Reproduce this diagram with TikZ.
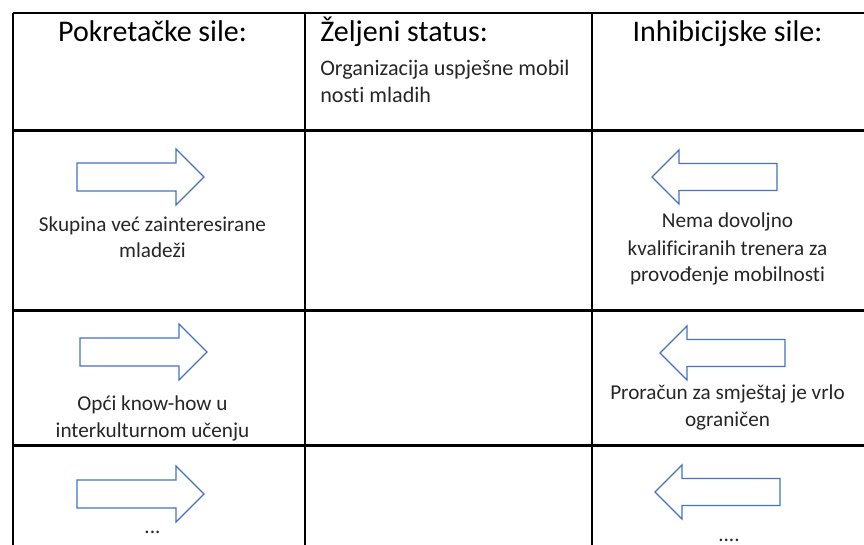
\documentclass[tikz,border=0pt]{standalone}
\usepackage{fontspec}
\setmainfont{Carlito}[Ligatures={NoCommon,NoDiscretionary}]
\definecolor{forceblue}{HTML}{4472C4}
\definecolor{bodytext}{HTML}{262626}
\tikzset{
  gridline/.style={line width=1.6pt},
  forcearrow/.style={draw=forceblue, line width=0.9pt, line join=miter},
  headtext/.style={font=\fontsize{22.5}{27}\selectfont, anchor=base},
  celltext/.style={font=\fontsize{15.9}{20.25}\selectfont, text=bodytext, align=center, anchor=base, inner sep=0pt},
}
% right-pointing arrow, tail centre given
\newcommand\pushforce[1]{%
  \draw[forcearrow] (#1) ++(0,-14) -- ++(99,0) -- ++(0,-14) -- ++(28,28)
    -- ++(-28,28) -- ++(0,-14) -- ++(-99,0) -- cycle;}
% left-pointing arrow, tip given
\newcommand\holdforce[1]{%
  \draw[forcearrow] (#1) -- ++(27,-27) -- ++(0,13.5) -- ++(98,0) -- ++(0,27)
    -- ++(-98,0) -- ++(0,13.5) -- cycle;}
\begin{document}
\begin{tikzpicture}[x=0.75pt, y=-0.75pt]
  \useasboundingbox (0,0) rectangle (864,545);

  % table
  \coordinate (A) at (13,13);
  \coordinate (B) at (305,13);
  \coordinate (C) at (592,13);
  \coordinate (D) at (864,13);
  \coordinate (A1) at (13,545);
  \coordinate (B1) at (305,545);
  \coordinate (C1) at (592,545);
  \coordinate (R1) at (13,130.5);
  \coordinate (R2) at (13,310.5);
  \coordinate (R3) at (13,445.5);
  \coordinate (S1) at (864,130.5);
  \coordinate (S2) at (864,310.5);
  \coordinate (S3) at (864,445.5);

  \draw[gridline] (A) -- (D);
  \draw[gridline] (R1) -- (S1);
  \draw[gridline] (R2) -- (S2);
  \draw[gridline] (R3) -- (S3);
  \draw[gridline] (A) -- (A1);
  \draw[gridline] (B) -- (B1);
  \draw[gridline] (C) -- (C1);

  % headers (multi-line nodes sit on their last baseline)
  \node[headtext] (pok) at (152.5,42) {Pokretačke sile:};
  \node[headtext, anchor=base west, inner sep=0pt] (zel) at (320,42) {Željeni status:};
  \node[headtext] (inh) at (727.5,42) {Inhibicijske sile:};
  \node[celltext, anchor=base west, align=left, font=\fontsize{16.6}{20.25}\selectfont] (cilj) at (320,103) {Organizacija uspješne mobil\\nosti mladih};

  % driving forces
  \coordinate (P1) at (77,177);
  \coordinate (P2) at (80,352);
  \coordinate (P3) at (77,494);
  \pushforce{P1}
  \pushforce{P2}
  \pushforce{P3}
  \node[celltext] (p1) at (152.5,258) {Skupina već zainteresirane\\mladeži};
  \node[celltext] (p2) at (152.5,437) {Opći know-how u\\interkulturnom učenju};
  \node[celltext] (p3) at (152.5,533) {...};

  % restraining forces
  \coordinate (H1) at (652,177);
  \coordinate (H2) at (660,353);
  \coordinate (H3) at (655,492);
  \holdforce{H1}
  \holdforce{H2}
  \holdforce{H3}
  \node[celltext] (h1) at (727.5,282) {Nema dovoljno\\kvalificiranih trenera za\\provođenje mobilnosti};
  \node[celltext] (h2) at (727.5,426) {Proračun za smještaj je vrlo\\ograničen};
  \node[celltext] (h3) at (729,541) {....};
\end{tikzpicture}
\end{document}
